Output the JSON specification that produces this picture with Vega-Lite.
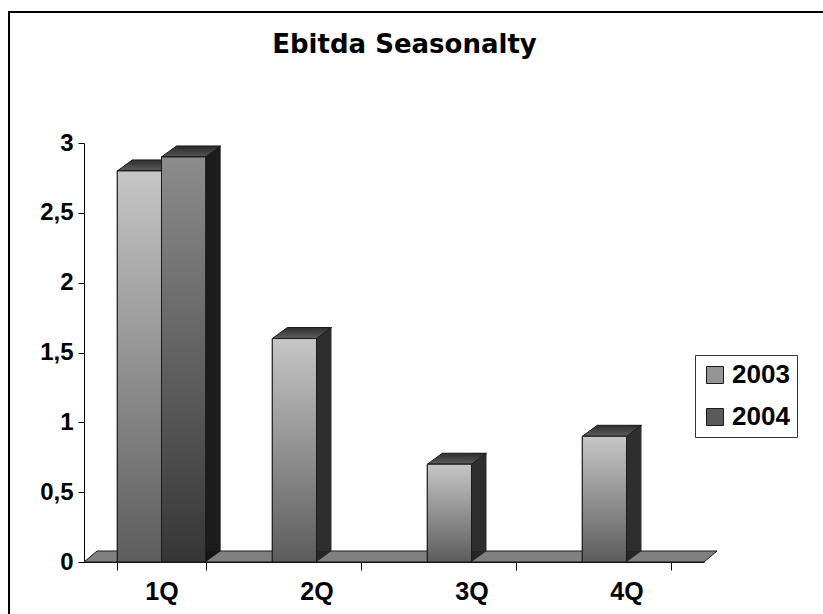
{
  "$schema": "https://vega.github.io/schema/vega-lite/v6.json",
  "autosize": {"type": "none"},
  "padding": {"left": 9, "top": 12, "right": 0, "bottom": 0},
  "width": 814,
  "height": 602,
  "background": "#ffffff",
  "config": {
    "font": "Liberation Sans",
    "view": {"stroke": "#000000", "strokeWidth": 2, "strokeDash": [814, 1416, 602], "fill": "#ffffff"}
  },
  "title": {
    "text": "Ebitda Seasonalty",
    "font": "DejaVu Sans",
    "fontSize": 26,
    "fontWeight": "bold",
    "color": "#000000",
    "anchor": "middle",
    "frame": "group",
    "dx": -11.5,
    "offset": -46
  },
  "data": {
    "values": [
      {"q": "1Q", "year": "2003", "v": 2.8},
      {"q": "1Q", "year": "2004", "v": 2.9},
      {"q": "2Q", "year": "2003", "v": 1.6},
      {"q": "3Q", "year": "2003", "v": 0.7},
      {"q": "4Q", "year": "2003", "v": 0.9}
    ]
  },
  "encoding": {
    "x": {
      "field": "q",
      "type": "nominal",
      "scale": {"domain": ["1Q", "2Q", "3Q", "4Q"], "range": [75, 695], "paddingInner": 0.43, "paddingOuter": 0.215},
      "axis": {
        "orient": "bottom",
        "offset": -52,
        "title": null,
        "tickBand": "extent",
        "tickSize": 8,
        "tickColor": "#000000",
        "domainColor": "#000000",
        "labelFont": "Liberation Sans",
        "labelFontSize": 25,
        "labelFontWeight": "bold",
        "labelColor": "#000000",
        "labelPadding": 9,
        "labelAngle": 0,
        "grid": false
      }
    }
  },
  "layer": [
    {
      "data": {"values": [{"q": "1Q"}]},
      "mark": {
        "type": "point",
        "shape": "M-77.5,0L542.5,0L555.5,-11L-64.5,-11Z",
        "size": 4,
        "filled": true,
        "fill": "#808080",
        "stroke": "#1a1a1a",
        "strokeWidth": 1,
        "opacity": 1
      },
      "encoding": {
        "y": {"datum": 0, "type": "quantitative", "title": null}
      }
    },
    {
      "mark": {"type": "point", "shape": "M22.1,0L37.1,-11L22.1,-11Z", "size": 4, "filled": true, "opacity": 1, "strokeWidth": 0},
      "encoding": {
        "xOffset": {"field": "year", "type": "nominal", "scale": {"domain": ["2003", "2004"], "paddingInner": 0, "paddingOuter": 0}},
        "y": {"datum": 0, "type": "quantitative", "title": null},
        "fill": {"condition": {"test": "datum.year === '2004'", "value": "#151515"}, "value": "#262626"}
      }
    },
    {
      "transform": [{"filter": "datum.year === '2003'"}],
      "mark": {"type": "rule", "strokeWidth": 15, "strokeCap": "butt", "color": "#2e2e2e", "yOffset": -11, "y2Offset": -11},
      "encoding": {
        "x": {"field": "q", "type": "nominal", "bandPosition": 0.585},
        "y": {"field": "v", "type": "quantitative", "title": null},
        "y2": {"datum": 0}
      }
    },
    {
      "transform": [{"filter": "datum.year === '2004'"}],
      "mark": {"type": "rule", "strokeWidth": 15, "strokeCap": "butt", "color": "#1c1c1c", "yOffset": -11, "y2Offset": -11},
      "encoding": {
        "x": {"field": "q", "type": "nominal", "bandPosition": 1.085},
        "y": {"field": "v", "type": "quantitative", "title": null},
        "y2": {"datum": 0}
      }
    },
    {
      "mark": {"type": "point", "shape": "M-22.1,0L22.1,0L37.1,-11L-7.1,-11Z", "size": 4, "filled": true, "opacity": 1, "stroke": "#1a1a1a", "strokeWidth": 1},
      "encoding": {
        "xOffset": {"field": "year", "type": "nominal"},
        "y": {"field": "v", "type": "quantitative", "title": null},
        "fill": {
          "condition": {
            "test": "datum.year === '2004'",
            "value": {"gradient": "linear", "x1": 0, "y1": 0, "x2": 0, "y2": 1, "stops": [{"offset": 0, "color": "#2a2a2a"}, {"offset": 1, "color": "#555555"}]}
          },
          "value": {"gradient": "linear", "x1": 0, "y1": 0, "x2": 0, "y2": 1, "stops": [{"offset": 0, "color": "#2e2e2e"}, {"offset": 1, "color": "#5e5e5e"}]}
        }
      }
    },
    {
      "mark": {"type": "bar", "stroke": "#1a1a1a", "strokeWidth": 1, "opacity": 1},
      "encoding": {
        "xOffset": {"field": "year", "type": "nominal"},
        "y": {
          "field": "v",
          "type": "quantitative",
          "title": null,
          "scale": {"domain": [0, 3], "range": [550, 131], "nice": false, "zero": true},
          "axis": {
            "orient": "left",
            "offset": -75,
            "values": [0, 0.5, 1, 1.5, 2, 2.5, 3],
            "labelExpr": "replace(format(datum.value, '~g'), '.', ',')",
            "grid": false,
            "domainColor": "#000000",
            "tickColor": "#000000",
            "tickSize": 6,
            "labelFont": "Liberation Sans",
            "labelFontSize": 24,
            "labelFontWeight": "bold",
            "labelColor": "#000000",
            "labelPadding": 5
          }
        },
        "color": {
          "field": "year",
          "type": "nominal",
          "scale": {"domain": ["2003", "2004"], "range": ["#959595", "#5a5a5a"]},
          "legend": {
            "title": null,
            "orient": "none",
            "legendX": 686,
            "legendY": 343,
            "direction": "vertical",
            "strokeColor": "#333333",
            "fillColor": "#ffffff",
            "padding": 7,
            "symbolType": "square",
            "symbolSize": 289,
            "symbolStrokeColor": "#1a1a1a",
            "symbolStrokeWidth": 1,
            "symbolOpacity": 1,
            "labelFont": "Liberation Sans",
            "labelFontSize": 26,
            "labelFontWeight": "bold",
            "labelColor": "#000000",
            "labelOffset": 4,
            "rowPadding": 16
          }
        }
      }
    },
    {
      "mark": {"type": "bar", "stroke": "#1a1a1a", "strokeWidth": 1, "opacity": 1},
      "encoding": {
        "xOffset": {"field": "year", "type": "nominal"},
        "y": {"field": "v", "type": "quantitative", "title": null},
        "fill": {
          "condition": {
            "test": "datum.year === '2004'",
            "value": {"gradient": "linear", "x1": 0, "y1": 0, "x2": 0, "y2": 1, "stops": [{"offset": 0, "color": "#8c8c8c"}, {"offset": 1, "color": "#363636"}]}
          },
          "value": {"gradient": "linear", "x1": 0, "y1": 0, "x2": 0, "y2": 1, "stops": [{"offset": 0, "color": "#c6c6c6"}, {"offset": 1, "color": "#5c5c5c"}]}
        }
      }
    }
  ]
}
